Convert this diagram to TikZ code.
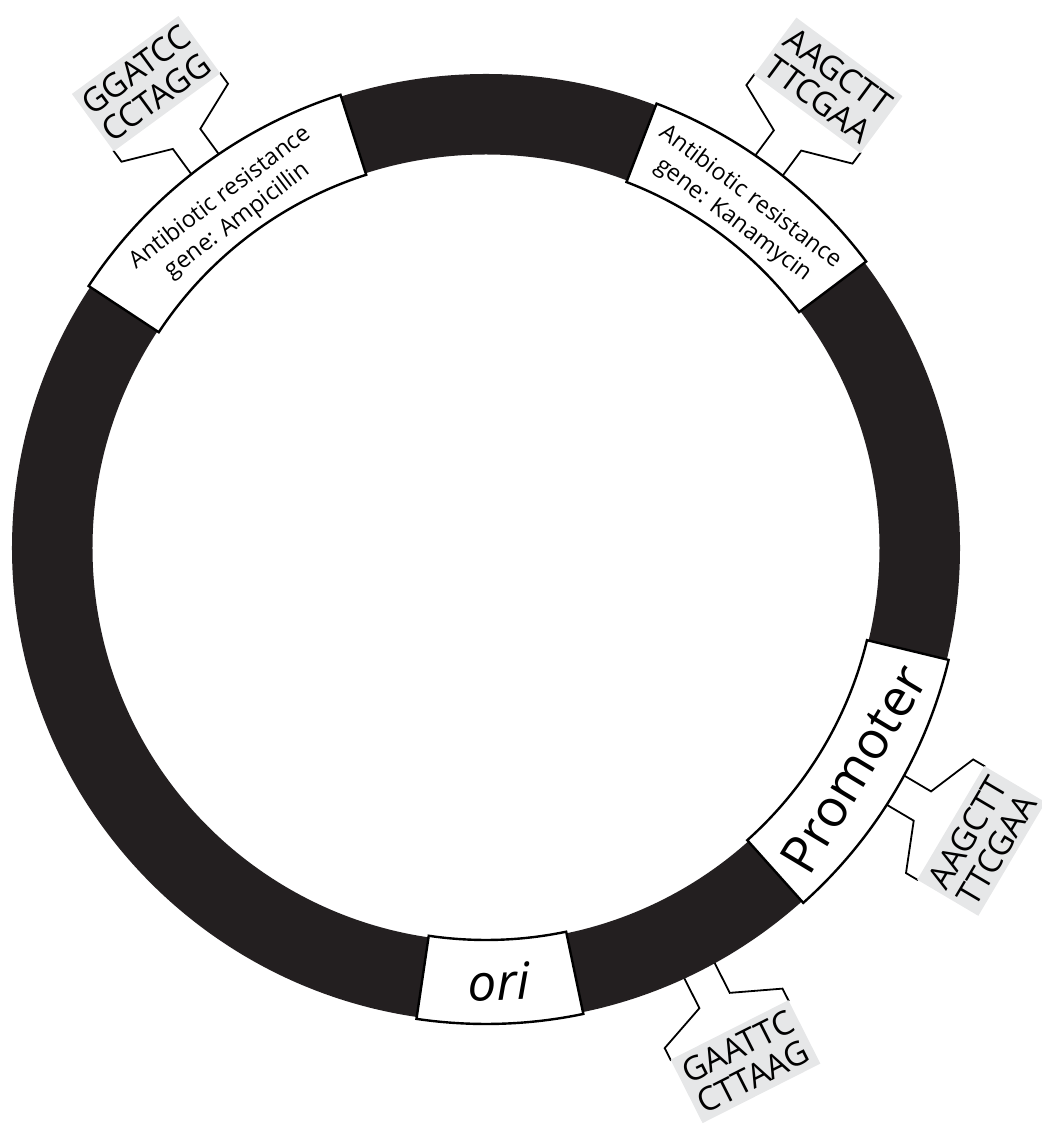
\documentclass[tikz,border=0pt]{standalone}
\usepackage{fontspec}
\setmainfont{Open Sans}
\definecolor{ringblack}{HTML}{231F20}
\definecolor{taggray}{HTML}{E6E7E8}
\tikzset{
  genebox/.style={fill=white,draw=black,line width=2.4pt},
  tagline/.style={draw=black,line width=1.8pt},
  tagbox/.style={fill=taggray},
  seqtext/.style={font=\fontsize{33}{34}\selectfont,align=center,inner sep=0pt},
  genetext/.style={font=\fontsize{23.5}{28.5}\selectfont,align=center,inner sep=0pt},
}

\begin{document}
\begin{tikzpicture}[x=1pt,y=1pt]
\useasboundingbox (-486,-575) rectangle (555,548);
% restriction sites: two legs off the ring, then the grey box
\begin{scope}[rotate=36.2]
	\draw[tagline] (-17,470) -- (-17,507) -- (-66,527) -- (-66,541);
	\draw[tagline] (17,470) -- (17,507) -- (66,527) -- (66,541);
	\fill[tagbox] (-66,540) rectangle (66,611);
	\node[seqtext,rotate=36.2] (ampSeq) at (0,575.5) {GGATCC\\CCTAGG};
\end{scope}
\begin{scope}[rotate=-36.5]
	\draw[tagline] (-17,470) -- (-17,507) -- (-66,527) -- (-66,541);
	\draw[tagline] (17,470) -- (17,507) -- (66,527) -- (66,541);
	\fill[tagbox] (-66,540) rectangle (66,611);
	\node[seqtext,rotate=-36.5] (kanSeq) at (0,575.5) {AAGCTT\\TTCGAA};
\end{scope}
\begin{scope}[rotate=-120.6]
	\draw[tagline] (-17,470) -- (-17,507) -- (-66,527) -- (-66,541);
	\draw[tagline] (17,470) -- (17,507) -- (66,527) -- (66,541);
	\fill[tagbox] (-66,540) rectangle (66,611);
	\node[seqtext,rotate=59.4] (promSeq) at (0,576.5) {AAGCTT\\TTCGAA};
\end{scope}
\begin{scope}[rotate=-153.2]
	\draw[tagline] (-17,470) -- (-17,507) -- (-66,527) -- (-66,541);
	\draw[tagline] (17,470) -- (17,507) -- (66,527) -- (66,541);
	\fill[tagbox] (-66,540) rectangle (66,611);
	\node[seqtext,rotate=26.8] (ecoSeq) at (0,575.5) {GAATTC\\CTTAAG};
\end{scope}

% the plasmid ring
\fill[ringblack,even odd rule] (0,0) circle[radius=474] (0,0) circle[radius=393.5];

% white gene boxes sitting on the ring
\draw[genebox] (107.8:392) arc[start angle=107.8,end angle=146.6,radius=392] -- (146.6:476) arc[start angle=146.6,end angle=107.8,radius=476] -- cycle;
\draw[genebox] (37:392) arc[start angle=37,end angle=69,radius=392] -- (69:476) arc[start angle=69,end angle=37,radius=476] -- cycle;
\draw[genebox] (-48.2:392) arc[start angle=-48.2,end angle=-13.6,radius=392] -- (-13.6:476) arc[start angle=-13.6,end angle=-48.2,radius=476] -- cycle;
\draw[genebox] (-98.4:392) arc[start angle=-98.4,end angle=-78.2,radius=392] -- (-78.2:476) arc[start angle=-78.2,end angle=-98.4,radius=476] -- cycle;

\node[genetext,rotate=37.2] (ampText) at (127.2:425) {Antibiotic resistance\\gene: Ampicillin};
\node[genetext,rotate=-37] (kanText) at (53:425) {Antibiotic resistance\\gene: Kanamycin};
\node[font=\fontsize{52}{52}\selectfont,rotate=59,inner sep=0pt] (promText) at (-31:429) {Promoter};
\node[font=\itshape\fontsize{51}{51}\selectfont,rotate=2,inner sep=0pt] (oriText) at (-88.3:434) {ori};
\end{tikzpicture}
\end{document}
